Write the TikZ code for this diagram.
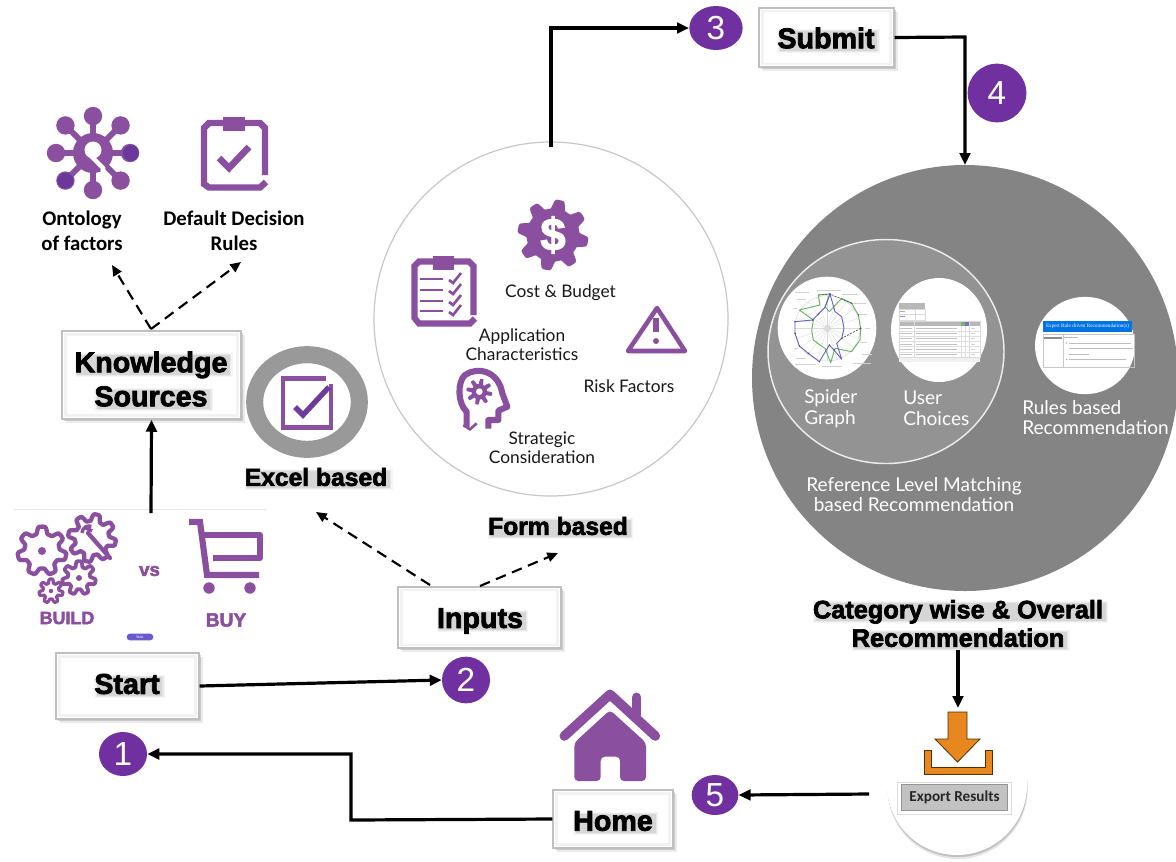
\documentclass[tikz,border=0pt]{standalone}
\usepackage{fontspec}
\usetikzlibrary{arrows.meta,shadows,shapes.geometric,shapes.misc}
\setmainfont{Lato}
\newfontfamily\heavy[BoldFeatures={FakeBold=2.6}]{Liberation Sans}
\newfontfamily\plainnum{Liberation Sans}
\newfontfamily\calib{Carlito}
\definecolor{pur}{HTML}{8A4F9E}
\definecolor{purd}{HTML}{5C2D9A}
\definecolor{num}{HTML}{7030A0}
\definecolor{bigg}{HTML}{848484}
\definecolor{ringg}{HTML}{939393}
\definecolor{org}{HTML}{E8871E}
\definecolor{pillc}{HTML}{6A5ACD}
\newcommand{\fsz}[2]{\fontsize{#1}{#2}\selectfont}
\newsavebox\shbox
\newcommand{\shd}[1]{\sbox\shbox{#1}\leavevmode
 \rlap{\smash{\kern0pt\raisebox{-3.4pt}{\color{black!4}\rule{\dimexpr\wd\shbox+4pt}{\dimexpr\ht\shbox+2.4pt}}}}%
 \rlap{\smash{\kern1pt\raisebox{-2.6pt}{\color{black!9}\rule{\dimexpr\wd\shbox+2pt}{\dimexpr\ht\shbox+.8pt}}}}%
 \rlap{\smash{\kern2pt\raisebox{-1.8pt}{\color{black!16}\rule{\wd\shbox}{\dimexpr\ht\shbox-.8pt}}}}%
 \usebox\shbox}
\newcommand{\geartrace}[6]{% cx cy R A teeth style
  \draw[#6,shift={(#1,#2)}] plot[samples=#5*16+1,domain=0:360,variable=\t]
   (\t:{#3+#4*max(-1,min(1,1.9*sin(#5*\t)))}) -- cycle;}
\newcommand{\boxinset}[1]{\draw[black!5,line width=2pt] ([shift={(4,4)}]#1.north west) rectangle ([shift={(-4,-4)}]#1.south east);}
\tikzset{
  box/.style={draw=black!25,line width=1.1pt,fill=white,inner sep=0pt,
    drop shadow={shadow xshift=3pt,shadow yshift=-3pt,opacity=.08,fill=black},
    drop shadow={shadow xshift=1.6pt,shadow yshift=-1.6pt,opacity=.14,fill=black}},
  boxtxt/.style={font=\heavy\bfseries\fsz{21.5}{25.5},align=center,inner sep=0pt},
  head/.style={font=\heavy\bfseries\fsz{18.5}{21.5},align=center,inner sep=0pt},
  lab/.style={font=\fsz{13}{14.5},align=center,inner sep=0pt,text=black!90},
  wlab/.style={font=\fsz{14.3}{15.6},align=left,inner sep=0pt,text=white},
  kslab/.style={font=\calib\bfseries\fsz{15.6}{18.7},align=center,inner sep=0pt},
  numc/.style={ellipse,fill=num,text=white,inner sep=0pt,font=\plainnum\fsz{25}{25}},
  flow/.style={draw=black,line width=2.4pt,-{Triangle[length=9pt,width=8pt]}},
  dflow/.style={draw=black,line width=1.6pt,dash pattern=on 8pt off 5pt,-{Triangle[length=8pt,width=7pt]}},
  icon/.style={draw=pur,line width=4.6pt,line join=miter,fill=none}
}
\begin{document}
\begin{tikzpicture}[x=0.75pt,y=-0.75pt]
\useasboundingbox (0,0) rectangle (1176,861);
\fill[white] (0,0) rectangle (1176,861);

% ---- big circles
\node[circle,draw=black!22,line width=.9pt,fill=white,minimum size=265.5pt,inner sep=0pt] (form) at (551,319) {};
\begin{scope}
\clip (0,0) rectangle (1176,861);
\fill[bigg] (965,378) circle[radius=213];
\end{scope}
\coordinate (bigtop) at (965,165);
\coordinate (bigbot) at (958,650);
\node[ellipse,draw=white!92!black,line width=1.1pt,fill=ringg,minimum width=177pt,minimum height=168pt,inner sep=0pt] (ring) at (886,351.5) {};

% ---- thumbnails
\node[ellipse,fill=white,minimum width=74pt,minimum height=77pt,inner sep=0pt] (spider) at (827,328) {};
\node[ellipse,fill=white,minimum width=72pt,minimum height=78pt,inner sep=0pt] (choices) at (939,330) {};
\node[ellipse,fill=white,minimum width=75pt,minimum height=73pt,inner sep=0pt] (rules) at (1085,345.5) {};

\begin{scope}[shift={(770,270)},x=.25pt,y=-.25pt]
 \foreach \a in {0,18,...,342}{\draw[black!14,line width=.25pt] (172,175) -- ++(\a:98);}
 \draw[black!18,line width=.3pt] (172,175) circle[radius=98];
 \draw[black!22,line width=.3pt] (172,175) circle[radius=8];
 \draw[green!50!black!60,line width=.7pt,line join=round] (180,72)--(145,75)--(150,105)--(88,120)--(130,150)--(125,180)--(130,210)--(150,225)--(165,235)--(182,278)--(195,235)--(245,245)--(270,210)--(272,175)--(265,135)--(245,100)--(215,85)--(178,125)--(165,110)--cycle;
 \draw[blue!65!black!60,line width=.7pt,line join=round] (180,72)--(165,112)--(145,132)--(128,150)--(75,155)--(75,190)--(88,228)--(115,250)--(148,275)--(178,225)--(192,240)--(215,268)--(200,220)--(215,205)--(222,175)--(215,140)--(195,125)--cycle;
 \draw[black!70,line width=.5pt,dash pattern=on 1.5pt off 1pt] (145,75)--(180,72)--(245,100) (272,175)--(215,205);
 \foreach \p in {(180,72),(145,132),(128,150),(75,155),(75,190),(88,228),(115,250),(148,275),(178,225),(192,240),(215,205),(272,175),(265,135),(245,100)}{\fill[black!70] \p circle[radius=2.5];}
 \foreach \xa/\ya/\w in {75/66/42,80/88/27,70/115/12,142/60/70,215/73/48,250/100/38,268/133/22,285/175/14,270/215/22,275/252/30,250/278/52,155/288/60,75/282/62,78/265/30,72/235/12}{\fill[black!18] (\xa,\ya) rectangle ++(\w,3);}
\end{scope}

\begin{scope}[shift={(885,270)},x=.25pt,y=-.25pt]
 \fill[black!28] (43,100) rectangle (120,118);
 \draw[black!15,line width=.3pt] (43,118) rectangle (120,150) (43,134)--(120,134) (92,118)--(92,150);
 \fill[black!28] (43,155) rectangle (285,168);
 \fill[black!6] (43,262) rectangle (285,275);
 \draw[black!15,line width=.3pt] (43,155) rectangle (285,262);
 \foreach \y in {183,198,214,230,246}{\draw[black!13,line width=.3pt] (43,\y)--(285,\y);}
 \foreach \x in {88,228,240,252}{\draw[black!13,line width=.3pt] (\x,155)--(\x,262);}
 \fill[green!45!black!55] (229,156) rectangle (240,168);
 \fill[blue!60!black!55] (241,156) rectangle (252,168);
 \foreach \y in {175,191,206,222,238,254}{\fill[black!24] (46,\y-1) rectangle (82,\y+1); \fill[black!24] (92,\y-1) rectangle (215,\y+1); \fill[black!18] (258,\y-1) rectangle (270,\y+1);}
 \fill[green!50!black!45] (46,123) rectangle (60,126);
 \fill[blue!60!black!45] (46,139) rectangle (60,142);
\end{scope}

\begin{scope}[shift={(1030,290)},x=.25pt,y=-.25pt]
 \node[fill=blue!50!cyan!90!black,minimum width=66.5pt,minimum height=8.2pt,inner sep=0pt,text=white,font=\fontspec{Liberation Serif}\fontsize{3.9}{4.2}\selectfont] (rulebar) at (172.5,108.5) {Expert Rule driven Recommendation(s)};
 \draw[black!22,line width=.35pt] (40,132) rectangle (312,232) (100,132)--(100,232);
 \fill[black!45] (43,142) rectangle (96,146);
 \fill[black!28] (103,142) rectangle (145,145);
 \foreach \xa/\ya/\w in {118/158/185,118/175/190,118/191/60,118/208/170}{\fill[black!26] (\xa,\ya) rectangle ++(\w,3);}
 \foreach \ya in {159,209}{\fill[black!40] (110,\ya) circle[radius=2.2];}
\end{scope}

\node[wlab,anchor=west] (spidertxt) at (804,408.5) {Spider\\Graph};
\node[wlab,anchor=west] (usertxt) at (903,408.5) {User\\Choices};
\node[wlab,anchor=west] (rulestxt) at (1022,417.5) {Rules based\\Recommendation};
\node[wlab,align=center] (reftxt) at (914,494.5) {Reference Level Matching\\based Recommendation};

% ---- form contents
\geartrace{553}{235}{31}{4.5}{8}{fill=pur,draw=none}
\node[font=\heavy\bfseries\fsz{34}{34},text=white,inner sep=0pt] (dollar) at (553,235) {\$};
\node[lab] (cost) at (560.5,293) {Cost \& Budget};
\node[lab] (app) at (522,344.5) {Application\\Characteristics};
\node[lab] (risk) at (629,386) {Risk Factors};
\node[lab] (strat) at (542,447.5) {Strategic\\Consideration};
% clipboard
\draw[icon] (433,261.5) -- (419,261.5) -- (414.5,266) -- (414.5,318) -- (419,323.5) -- (470,323.5) -- (475,318.5) (473.5,315) -- (473.5,266) -- (469,261.5) -- (454,261.5);
\fill[pur] (433,256) rectangle (454,270);
\foreach \y in {279,290,301,311}{
 \draw[pur,line width=1.6pt] (420,\y) -- (443,\y);
 \draw[pur,line width=2pt] (449,\y+1) -- (453,\y+4) -- (461,\y-6);}
% warning
\draw[icon,line width=3.4pt,line join=round] (657,308) -- (685,351) -- (628,351) -- cycle;
\draw[pur,line width=4pt] (656,318) -- (656,332);
\fill[pur] (656,341) circle[radius=3];
% head
\begin{scope}[shift={(370,190)},x=.25pt,y=-.25pt]
 \draw[pur,line width=4.6pt,line join=round] (290,712) -- (290,665) .. controls (262,640) and (262,575) .. (285,555) .. controls (320,530) and (385,540) .. (397,610) -- (412,650) -- (385,662) -- (385,690) -- (355,690) -- (355,716);
 \draw[pur,line width=2pt] (280,705) -- (300,718) -- (320,700);
 \geartrace{328}{605}{31}{8}{8}{fill=pur,draw=none}
 \fill[white] (328,605) circle[radius=10];
\end{scope}

% ---- knowledge icons
\begin{scope}[shift={(93,153)}]
 \foreach \a in {0,45,...,315}{\draw[pur,line width=4.4pt] (\a:10) -- (\a:37);\fill[pur] (\a:{mod(\a,90)==0 ? 37 : 39}) circle[radius=9.2];}
 \fill[pur] (0,0) circle[radius=20];
 \fill[white] (0,-3) circle[radius=8.5];
 \draw[white,line width=3.4pt] (-3,2) -- (10,15) -- (10,22);
 \fill[purd!70!pur] (38,0) circle[radius=8];
 \fill[purd!70!pur] (135:39) circle[radius=8];
\end{scope}
\draw[icon,line width=4.8pt] (223,123) -- (209,123) -- (204,128) -- (204,184) -- (209,187.5) -- (260,187.5) -- (266,182) (265,175) -- (265,128) -- (260,123) -- (245,123);
\fill[pur] (223,117) rectangle (245,131);
\draw[pur,line width=5pt] (219,158) -- (229,168) -- (249,147);
\node[kslab] (onto) at (82,231) {Ontology\\of factors};
\node[kslab] (rules2) at (234,230.5) {Default Decision\\Rules};

% ---- build vs buy
\draw[black!10,line width=.5pt] (14,509) -- (266,509);
\geartrace{42}{551}{21}{3.4}{7}{draw=pur,line width=3.2pt,fill=white,line join=round}
\fill[pur] (42,551) circle[radius=4];
\geartrace{92}{538}{20.5}{3.4}{8}{draw=pur,line width=3.2pt,fill=white,line join=round}
\draw[pur,line width=3.2pt,line cap=round] (88,533) -- (110,558);
\draw[pur,line width=2.6pt] (82,533) arc[start angle=180,end angle=290,radius=7];
\draw[pur,line width=2.6pt] (84,527) -- (92,531);
\geartrace{79}{578}{14}{2.8}{7}{draw=pur,line width=2.8pt,fill=white,line join=round}
\fill[pur] (79,578) circle[radius=3];
\geartrace{51}{591}{10}{2}{7}{draw=pur,line width=2.4pt,fill=white,line join=round}
\fill[pur] (51,591) circle[radius=2.2];
\node[font=\heavy\bfseries\fsz{13.4}{13},text=pur,inner sep=0pt] (buildt) at (67,618) {BUILD};
\node[font=\heavy\bfseries\fsz{14}{14},text=pur,inner sep=0pt] (vs) at (149.5,571) {vs};
\node[font=\heavy\bfseries\fsz{14.4}{15},text=pur,inner sep=0pt] (buyt) at (226,620) {BUY};
\draw[pur,line width=4.6pt,line join=miter] (189,522) -- (200,522) -- (207,575) -- (259,575);
\draw[pur,line width=4.6pt,line join=round] (204,535) -- (260,535) -- (260,558) -- (213,558);
\fill[pur] (209,588) circle[radius=5.7] (250,588) circle[radius=5.7];
\node[rounded rectangle,fill=pillc,minimum width=20pt,minimum height=5.2pt,inner sep=0pt,text=white,font=\fsz{2.6}{3}] (pill) at (140,637) {Start};

% ---- excel icon
\node[ellipse,draw=black!40,line width=12.8pt,fill=white,minimum width=78.5pt,minimum height=71pt,inner sep=0pt] (excel) at (307,402) {};
\draw[icon,line width=3.4pt] (326,378.5) -- (283,378.5) -- (283,427.5) -- (331,427.5) -- (331,384);
\draw[purd!60!pur,line width=4pt] (295,407) -- (303,415) -- (329,387);
\node[head] (exceltxt) at (316,477) {\shd{Excel based}};
\node[head] (formtxt) at (558,526) {\shd{Form based}};

% ---- boxes
\node[box,minimum width=134pt,minimum height=66pt] (ks) at (151.5,375) {};
\boxinset{ks}
\node[boxtxt] (kst) at (151,379) {\shd{Knowledge}\\\shd{Sources}};
\node[box,minimum width=107pt,minimum height=49.5pt] (start) at (127.5,686) {};
\boxinset{start}
\node[boxtxt] (startt) at (127,684) {\shd{Start}};
\node[box,minimum width=122pt,minimum height=46pt] (inputs) at (479.5,617.5) {};
\boxinset{inputs}
\node[boxtxt] (inputst) at (480,621) {\shd{Inputs}};
\node[box,minimum width=101pt,minimum height=44.5pt] (submit) at (826.5,37.5) {};
\boxinset{submit}
\node[boxtxt] (submitt) at (826,38) {\shd{Submit}};
\node[box,minimum width=90pt,minimum height=43.5pt] (home) at (613,819) {};
\boxinset{home}
\node[boxtxt] (homet) at (613,821) {\shd{Home}};
\node[head,font=\heavy\bfseries\fsz{19}{21.3}] (cat) at (958,623.5) {\shd{Category wise \& Overall}\\\shd{Recommendation}};

% ---- number circles
\node[numc,minimum width=36pt,minimum height=33pt] (n1) at (123,754) {1};
\node[numc,minimum width=36pt,minimum height=35pt] (n2) at (466,680) {2};
\node[numc,minimum width=40pt,minimum height=33pt] (n3) at (716,28) {3};
\node[numc,minimum width=44pt,minimum height=44pt] (n4) at (997,93) {4};
\node[numc,minimum width=35pt,minimum height=30pt] (n5) at (715,795) {5};

% ---- home icon
\begin{scope}[shift={(540,680)},x=.25pt,y=-.25pt]
 \fill[pur,rounded corners=3pt] (210,90) -- (318,188) -- (318,303) -- (240,303) -- (240,230) -- (182,230) -- (182,303) -- (103,303) -- (103,188) -- cycle;
 \draw[pur,line width=7.2pt,line cap=round,line join=round] (73,168) -- (210,43) -- (346,168);
 \draw[pur,line width=7.2pt,line cap=round] (290,52) -- (290,105);
\end{scope}

% ---- export
\node[circle,fill=white,minimum size=105pt,inner sep=0pt,
  drop shadow={shadow xshift=.5pt,shadow yshift=-3pt,opacity=.10,fill=black},
  drop shadow={shadow xshift=.3pt,shadow yshift=-1.5pt,opacity=.16,fill=black}] (export) at (957,785) {};
\fill[white] (887,700) rectangle (1027,785);
\draw[draw=black!65!org,line width=.6pt,fill=org] (948,712) -- (967,712) -- (967,739) -- (980,739) -- (957.5,762) -- (935,739) -- (948,739) -- cycle;
\draw[draw=black!65!org,line width=.6pt,fill=org] (924,750) -- (931,750) -- (931,767) -- (985,767) -- (985,750) -- (992,750) -- (992,774) -- (924,774) -- cycle;
\draw[black!14,line width=.7pt,fill=white] (897,782) rectangle (1011,814);
\node[draw=black!42,line width=.7pt,fill=black!24,minimum width=80pt,minimum height=20pt,inner sep=0pt,font=\calib\bfseries\fsz{11.4}{12},text=black!85] (exportbtn) at (954.5,797.5) {Export Results};

% ---- connectors
\coordinate (kn) at (151,329);
\coordinate (onto-end) at (112,265);
\coordinate (rule-end) at (241,262);
\coordinate (hub) at (151,513);
\coordinate (exc-end) at (316,512);
\coordinate (frm-end) at (558,553);
\coordinate (inA) at (430,585);
\coordinate (inB) at (480,586);
\coordinate (homeTurn) at (351,820);
\coordinate (formTop) at (551,147);
\coordinate (subTurn) at (965,37);
\coordinate (expTop) at (958,708);
\coordinate (expLeft) at (869,794);
\draw[flow] (hub) -- (ks.south);
\draw[dflow] (kn) -- (onto-end);
\draw[dflow] (kn) -- (rule-end);
\draw[dflow] (inA) -- (exc-end);
\draw[dflow] (inB) -- (frm-end);
\draw[flow] (start.east) -- (n2.west);
\draw[flow] (home.west) -- (homeTurn) |- (n1.east);
\draw[flow] (formTop) |- (n3.west);
\draw[flow] (submit.east) -- (subTurn) -- (bigtop);
\draw[flow] (bigbot) -- (expTop);
\draw[flow] (expLeft) -- (n5.east);
\end{tikzpicture}
\end{document}
